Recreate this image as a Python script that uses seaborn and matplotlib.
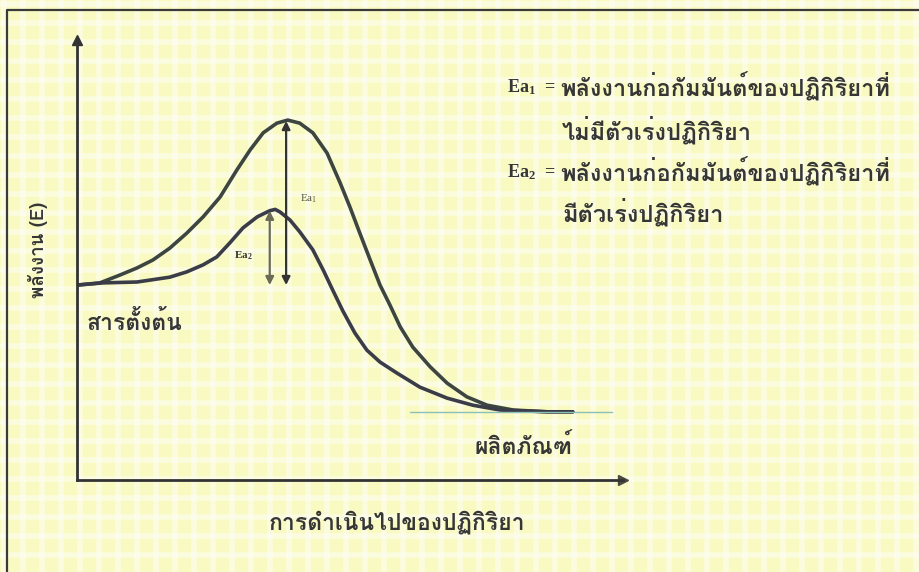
import numpy as np
import pandas as pd
import seaborn as sns
import matplotlib.pyplot as plt
import matplotlib.font_manager as fm
from matplotlib.ft2font import FT2Font

# energy profile (progress 0-100, energy 0-100)
progress_uncat = [0, 4.2, 7.9, 11.0, 13.9, 17.0, 20.1, 23.1, 26.2, 29.3, 31.7, 34.1, 36.6,
                  38.6, 40.8, 43.2, 45.8, 48.2, 50.0, 51.8, 53.7, 55.5, 57.3, 59.2, 61.5,
                  64.7, 67.8, 71.4, 75.1, 79.9, 86.1, 90.8]
energy_uncat = [44.3, 44.8, 46.6, 48.2, 50.0, 52.7, 56.1, 59.8, 64.3, 70.5, 75.0, 78.9, 81.1,
                81.8, 81.1, 78.9, 74.3, 67.5, 62.0, 56.1, 50.0, 44.3, 39.8, 34.8, 30.2,
                25.7, 22.0, 18.9, 17.0, 15.9, 15.5, 15.5]
progress_cat = [0, 4.8, 11.0, 17.0, 20.1, 23.1, 25.6, 28.0, 30.4, 33.0, 35.3, 36.3, 37.2,
                39.0, 40.8, 43.2, 45.1, 46.9, 48.7, 50.9, 53.1, 55.5, 58.6, 62.8, 67.8,
                72.5, 77.5, 86.1, 90.8]
energy_cat = [44.3, 44.8, 45.0, 46.1, 47.3, 48.9, 50.7, 53.9, 57.3, 59.8, 61.2, 61.5, 60.9,
              59.1, 56.4, 52.3, 47.7, 43.0, 38.4, 33.4, 29.5, 26.8, 24.3, 21.1, 18.6,
              17.0, 15.9, 15.5, 15.5]

reactant_level = 44.3
product_level = 15.5
peak_uncat = 81.6
peak_cat = 61.2
ea_x = [38.3, 35.3]

ylabel = "พลังงาน (E)"
xlabel = "การดำเนินไปของปฏิกิริยา"
reactant_label = "สารตั้งต้น"
product_label = "ผลิตภัณฑ์"
note_keys = [r"$\mathregular{Ea_1}$", r"$\mathregular{Ea_2}$"]
note_text = ["พลังงานก่อกัมมันต์ของปฏิกิริยาที่", "ไม่มีตัวเร่งปฏิกิริยา",
             "พลังงานก่อกัมมันต์ของปฏิกิริยาที่", "มีตัวเร่งปฏิกิริยา"]

# find a font that can draw thai
thai = None
for f in fm.fontManager.ttflist:
    try:
        if 0x0E1E in FT2Font(f.fname).get_charmap():
            thai = f.name
            break
    except Exception:
        pass

sns.set_style("darkgrid", {"axes.facecolor": "#f9f9c2", "grid.color": "#ffffff"})
fams = [thai, "DejaVu Sans"] if thai else ["DejaVu Sans"]
plt.rcParams['font.family'] = fams

fig = plt.figure(figsize=(9.2, 5.72), dpi=100)

# background with the white grid pattern
bg = fig.add_axes([0, 0, 1, 1])
bg.set_xlim(0, 920)
bg.set_ylim(572, 0)
bg.set_xticks(np.arange(4, 920, 19))
bg.set_yticks(np.arange(4, 572, 19))
bg.grid(True, lw=4, alpha=0.45)
bg.tick_params(length=0, labelbottom=False, labelleft=False)
for s in bg.spines.values():
    s.set_visible(False)
bg.plot([7, 7, 930], [580, 10, 10], color="#3a3a3a", lw=1.6)

ax = fig.add_axes([77 / 920, 92 / 572, 546 / 920, 440 / 572])
ax.set_facecolor("none")
ax.grid(False)

df = pd.DataFrame({
    "progress": progress_uncat + progress_cat,
    "energy": energy_uncat + energy_cat,
    "path": ["uncat"] * len(progress_uncat) + ["cat"] * len(progress_cat),
})
sns.lineplot(data=df, x="progress", y="energy", hue="path",
             palette={"uncat": "#3d4540", "cat": "#3a3c48"},
             lw=2.6, legend=False, ax=ax, estimator=None, sort=False)
for ln in ax.lines:
    ln.set_solid_joinstyle("round")

# thin product level line
ax.plot([61, 98], [product_level, product_level], color="#8cc0b4", lw=1)

# activation energy arrows
ax.annotate("", xy=(ea_x[0], peak_uncat), xytext=(ea_x[0], reactant_level),
            arrowprops=dict(arrowstyle="<|-|>", color="#333333", lw=1.6,
                            mutation_scale=12, shrinkA=0, shrinkB=0))
ax.annotate("", xy=(ea_x[1], peak_cat), xytext=(ea_x[1], reactant_level),
            arrowprops=dict(arrowstyle="<|-|>", color="#6a6a55", lw=1.6,
                            mutation_scale=12, shrinkA=0, shrinkB=0))
ax.text(ea_x[0] + 2.6, 64, r"$\mathregular{Ea_1}$", fontsize=8, color="#555550",
        family="Liberation Serif", va="center")
ax.text(ea_x[1] - 6.5, 51, r"$\mathregular{Ea_2}$", fontsize=8, color="#333333",
        family="Liberation Serif", fontweight="bold", va="center")

ax.set_xlim(0, 100)
ax.set_ylim(0, 100)
ax.set_xticks([])
ax.set_yticks([])
ax.set_xlabel("")
ax.set_ylabel("")
for side in ["top", "right"]:
    ax.spines[side].set_visible(False)
for side in ["left", "bottom"]:
    ax.spines[side].set_visible(True)
    ax.spines[side].set_color("#333333")
    ax.spines[side].set_linewidth(2)
ax.plot(0, 100, marker="^", color="#333333", ms=7, clip_on=False)
ax.plot(100, 0, marker=">", color="#4a4a40", ms=7, clip_on=False)

# labels
ink = "#363636"
fig.text(38 / 920, 1 - 250 / 572, ylabel, rotation=90, ha="center", va="center",
         fontsize=13.5, fontweight="bold", color=ink)
fig.text(87 / 920, 1 - 322 / 572, reactant_label, ha="left", va="center",
         fontsize=16.5, fontweight="bold", color=ink)
fig.text(475 / 920, 1 - 446 / 572, product_label, ha="left", va="center",
         fontsize=16.5, fontweight="bold", color=ink)
fig.text(397 / 920, 1 - 522 / 572, xlabel, ha="center", va="center",
         fontsize=16.5, fontweight="bold", color=ink)

key_y = [87, 172]
for k, ky in zip(note_keys, key_y):
    fig.text(507 / 920, 1 - ky / 572, k, ha="left", va="center", fontsize=13,
             fontweight="bold", color=ink, family="Liberation Serif")
    fig.text(544 / 920, 1 - ky / 572, "=", ha="left", va="center", fontsize=13,
             fontweight="bold", color=ink, family="Liberation Serif")

note_x = [560, 562, 560, 562]
note_y = [87, 130, 172, 212]
for t, nx, ny in zip(note_text, note_x, note_y):
    fig.text(nx / 920, 1 - ny / 572, t, ha="left", va="center",
             fontsize=17, fontweight="bold", color=ink)

plt.savefig("out.png", dpi=100)
